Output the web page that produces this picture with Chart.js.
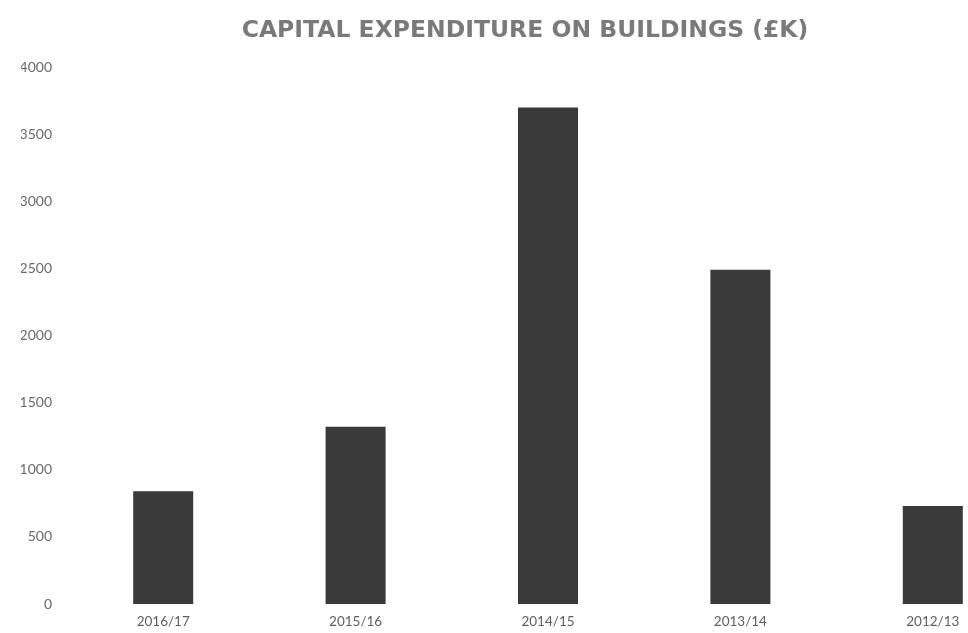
<!DOCTYPE html>
<html>
<head>
<meta charset="utf-8">
<script src="https://cdn.jsdelivr.net/npm/chart.js@4"></script>
<style>
  html, body { margin: 0; padding: 0; background: #fff; overflow: hidden; }
  #wrap { position: relative; width: 1050px; height: 633px; }
</style>
</head>
<body>
<div id="wrap"><canvas id="chart"></canvas></div>
<script>
// Financial years, most recent first
const years = ['2016/17', '2015/16', '2014/15', '2013/14', '2012/13'];
// Capital expenditure on buildings, in £K
const expenditure = [840, 1320, 3700, 2490, 730];
// Value axis range and step
const yMin = 0;
const yMax = 4000;
const yStep = 500;

const titleText = 'CAPITAL EXPENDITURE ON BUILDINGS (£K)';

new Chart(document.getElementById('chart'), {
  type: 'bar',
  data: {
    labels: years,
    datasets: [{
      data: expenditure,
      backgroundColor: '#3a3a3a',
      borderWidth: 0,
      categoryPercentage: 1,
      barPercentage: 0.312
    }]
  },
  options: {
    responsive: true,
    maintainAspectRatio: false,
    animation: false,
    layout: { padding: { left: 21, right: 21, top: 0, bottom: 4 } },
    plugins: {
      legend: { display: false },
      tooltip: { enabled: false },
      title: {
        display: true,
        text: titleText,
        color: '#7a7a7a',
        font: { family: '"DejaVu Sans", sans-serif', size: 23.5, weight: 'bold' },
        padding: { top: 17, bottom: 22 }
      }
    },
    scales: {
      x: {
        grid: { display: false, drawTicks: false },
        border: { display: false },
        ticks: {
          color: '#5f5f5f',
          font: { family: 'Lato, sans-serif', size: 13.5 },
          padding: 10,
          maxRotation: 0
        },
        afterFit(scale) { scale.height = 25; }
      },
      y: {
        min: yMin,
        max: yMax,
        grid: { display: false, drawTicks: false },
        border: { display: false },
        ticks: {
          stepSize: yStep,
          color: '#6a6a6a',
          font: { family: 'Lato, sans-serif', size: 14 },
          padding: 15,
          callback: (v) => String(v)
        },
        afterFit(scale) { scale.width = 46; }
      }
    }
  }
});
</script>
</body>
</html>
